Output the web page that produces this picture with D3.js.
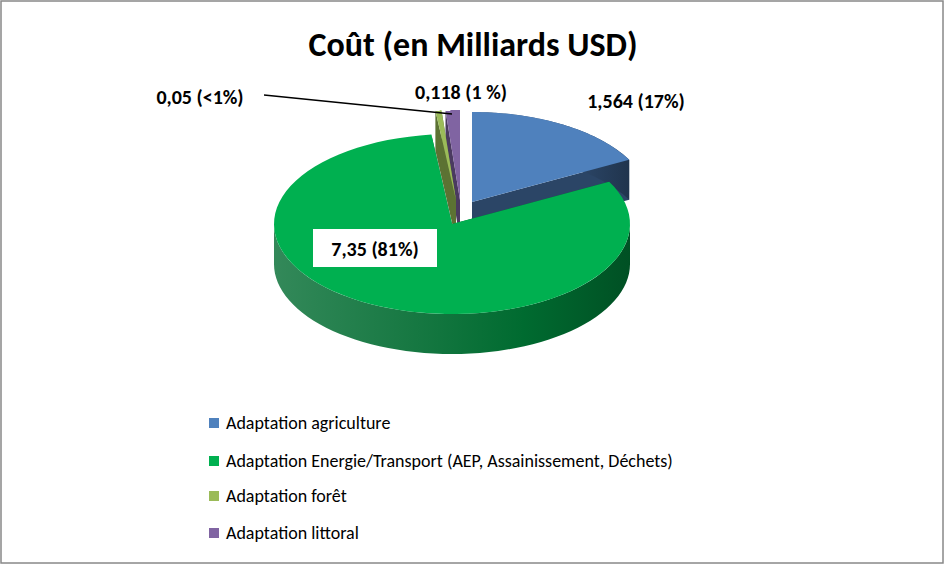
<!DOCTYPE html><html><head><meta charset="utf-8">
<script src="https://cdn.jsdelivr.net/npm/d3@7"></script>
<style>body{margin:0;background:#fff}text{font-family:Carlito,Lato,"Liberation Sans",sans-serif}</style></head><body>
<svg id="c" width="946" height="566"></svg>
<script>
const categories=["Adaptation agriculture","Adaptation Energie/Transport (AEP, Assainissement, Déchets)","Adaptation forêt","Adaptation littoral"];
const values=[1.564,7.35,0.05,0.118];
const labels=["1,564 (17%)","7,35 (81%)","0,05 (<1%)","0,118 (1 %)"];
const topColors=["#4f81bd","#00b050","#9bbb59","#8064a2"];
const sideColors=["#2b4566","#006b30","#5c7233","#4a3a60"];
const svg=d3.select("#c");
svg.append("rect").attr("x",1).attr("y",1).attr("width",942).attr("height",562).attr("fill","#fff").attr("stroke","#888").attr("stroke-width",1.5);
svg.append("text").attr("x",473).attr("y",56).attr("text-anchor","middle").attr("font-size",34).attr("font-weight","bold").text("Coût (en Milliards USD)");
const cx=452,cy=224,rx=178,ry=90,depth=40;
const order=[0,1,2,3];
const pie=d3.pie().sort(null).value(i=>values[i])(order);
const explode=[[20,-22],[0,0],[4,-24],[8,-24]];
function P(a,dx,dy,z){return [cx+dx+rx*Math.sin(a),cy+dy-ry*Math.cos(a)+z];}
const g=svg.append("g");
const defs=svg.append("defs");
const drawOrder=[0,3,2,1];
drawOrder.forEach(i=>{
  const s=pie[i];const [dx,dy]=explode[i];
  const a0=s.startAngle,a1=s.endAngle;
  const gr=defs.append("linearGradient").attr("id","g"+i).attr("x1",0).attr("x2",1);
  gr.append("stop").attr("offset","0").attr("stop-color",sideColors[i]).attr("stop-opacity",0.8);
  gr.append("stop").attr("offset","0.7").attr("stop-color",sideColors[i]);
  gr.append("stop").attr("offset","1").attr("stop-color",d3.color(sideColors[i]).darker(0.8));
  [a0,a1].forEach(a=>{
    const c0=[cx+dx,cy+dy],p=P(a,dx,dy,0);
    g.append("path").attr("d",`M${c0}L${p}L${p[0]},${p[1]+depth}L${c0[0]},${c0[1]+depth}Z`).attr("fill",sideColors[i]);
  });
  const lo=Math.max(a0,Math.PI/2),hi=Math.min(a1,3*Math.PI/2);
  const segs=[];
  if(lo<hi)segs.push([lo,hi]);
  if(a0<Math.PI/2&&i===0)segs.push([a0,Math.min(a1,Math.PI/2)]);
  segs.forEach(([u,v])=>{
    const n=60,pts=[];
    for(let k=0;k<=n;k++)pts.push(P(u+(v-u)*k/n,dx,dy,0));
    for(let k=n;k>=0;k--)pts.push(P(u+(v-u)*k/n,dx,dy,depth));
    g.append("path").attr("d","M"+pts.join("L")+"Z").attr("fill","url(#g"+i+")");
  });
});
drawOrder.forEach(i=>{
  const s=pie[i];const [dx,dy]=explode[i];
  const n=80,pts=[[cx+dx,cy+dy]];
  for(let k=0;k<=n;k++)pts.push(P(s.startAngle+(s.endAngle-s.startAngle)*k/n,dx,dy,0));
  g.append("path").attr("d","M"+pts.join("L")+"Z").attr("fill",topColors[i]);
});
const lab=svg.append("g").attr("font-size",20).attr("font-weight","bold");
lab.append("text").attr("x",636).attr("y",108).attr("text-anchor","middle").text(labels[0]);
lab.append("rect").attr("x",313).attr("y",229).attr("width",124).attr("height",38).attr("fill","#fff");
lab.append("text").attr("x",375).attr("y",256).attr("text-anchor","middle").text(labels[1]);
lab.append("text").attr("x",200).attr("y",104).attr("text-anchor","middle").text(labels[2]);
svg.append("path").attr("d","M264,95L452,114").attr("stroke","#000").attr("stroke-width",1.5).attr("fill","none");
lab.append("text").attr("x",461).attr("y",99).attr("text-anchor","middle").text(labels[3]);
const ly=[423,461,496,533];
categories.forEach((c,i)=>{
  svg.append("rect").attr("x",209).attr("y",ly[i]-5).attr("width",10).attr("height",10).attr("fill",topColors[i]);
  svg.append("text").attr("x",226).attr("y",ly[i]+6).attr("font-size",18).text(c);
});
</script></body></html>
